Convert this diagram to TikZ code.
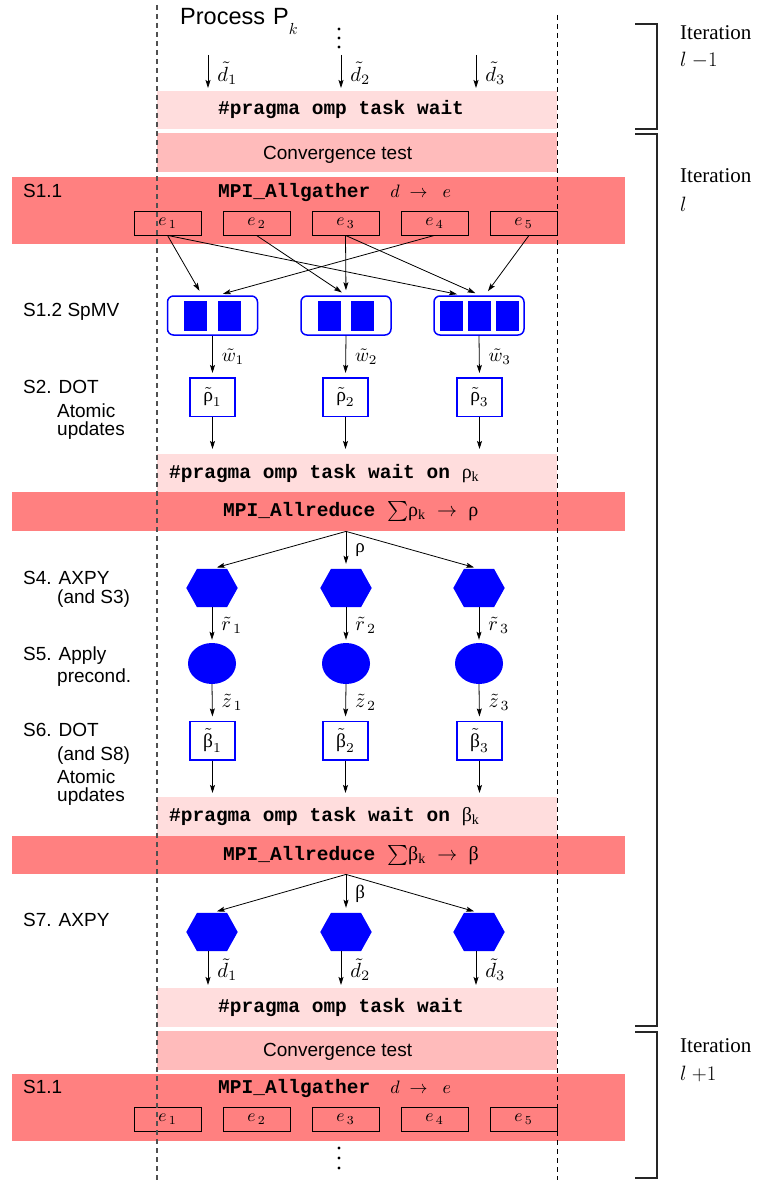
\documentclass[tikz,border=0pt]{standalone}
\usepackage{fontspec}
\setmainfont{Liberation Serif}
\setsansfont{Liberation Sans}
\setmonofont{Liberation Mono}
\newfontfamily\grk{Liberation Serif}
\usetikzlibrary{arrows.meta,shapes.geometric}
\definecolor{pragcol}{RGB}{255,221,221}
\definecolor{convcol}{RGB}{255,187,187}
\definecolor{mpicol}{RGB}{255,128,128}
\definecolor{dgray}{RGB}{80,80,80}
\newcommand\lblfont{\sffamily\fontsize{19}{22}\selectfont}
\newcommand\monfont{\ttfamily\bfseries\fontsize{19.5}{22}\selectfont}
\newcommand\grho{{\grk\mdseries ρ}}
\newcommand\gbeta{{\grk\mdseries β}}
\newcommand\mth[2][1.9]{\scalebox{#1}{\normalsize$#2$}}
\newcommand\hexnode[3]{%
  \node[hexbox] (#1) at (#2,#3) {};
  \fill[blue] (#1.west) -- ([xshift=-15pt]#1.north) -- ([xshift=15pt]#1.north) -- (#1.east)
    -- ([xshift=15pt]#1.south) -- ([xshift=-15pt]#1.south) -- cycle;}
\begin{document}
\begin{tikzpicture}[x=1pt,y=-1pt,
  band/.style={anchor=north west, inner sep=0pt, draw=none},
  mono/.style={font=\monfont, inner sep=0pt, anchor=base west},
  sans/.style={font=\lblfont, inner sep=0pt, anchor=base west},
  ebox/.style={draw=black, line width=0.8pt, minimum width=67pt, minimum height=24pt, inner sep=0pt},
  spmv/.style={draw=blue, line width=1.5pt, rounded corners=6pt, minimum width=90pt, minimum height=39pt, inner sep=0pt},
  blk/.style={fill=blue, minimum width=23pt, minimum height=30pt, inner sep=0pt},
  dotbox/.style={draw=blue, line width=1.5pt, fill=white, minimum width=45pt, minimum height=38.5pt, inner sep=0pt},
  hexbox/.style={minimum width=51pt, minimum height=38pt, inner sep=0pt, draw=none},
  ell/.style={ellipse, fill=blue, minimum width=48pt, minimum height=41pt, inner sep=0pt},
  arr/.style={-{Stealth[length=8pt,width=5pt,inset=1.5pt]}, line width=0.8pt, shorten >=4pt},
  lab/.style={right=9pt, inner sep=0pt},
  glab/.style={right=9pt, inner sep=0pt, font=\fontsize{19}{20}\selectfont},
  brk/.style={line width=1.2pt, black!85},
  iter/.style={font=\fontsize{21}{24}\selectfont, inner sep=0pt, anchor=base west}
]
\useasboundingbox (0,0) rectangle (756,1180);

% ---------- horizontal bands ----------
\node[band, fill=pragcol, minimum width=400pt, minimum height=38pt] (p1) at (157,91) {};
\node[band, fill=convcol, minimum width=400pt, minimum height=39pt] (c1) at (157,133) {};
\node[band, fill=mpicol, minimum width=613pt, minimum height=67pt] (g1) at (12,177) {};
\node[band, fill=pragcol, minimum width=400pt, minimum height=38pt] (p2) at (157,454) {};
\node[band, fill=mpicol, minimum width=613pt, minimum height=39pt] (a1) at (12,492) {};
\node[band, fill=pragcol, minimum width=400pt, minimum height=38.5pt] (p3) at (157,797) {};
\node[band, fill=mpicol, minimum width=613pt, minimum height=38.5pt] (a2) at (12,835.5) {};
\node[band, fill=pragcol, minimum width=400pt, minimum height=39pt] (p4) at (157,988) {};
\node[band, fill=convcol, minimum width=400pt, minimum height=39pt] (c2) at (157,1031) {};
\node[band, fill=mpicol, minimum width=613pt, minimum height=67pt] (g2) at (12,1074) {};

% ---------- band texts ----------
\node[font=\sffamily\fontsize{23.5}{28}\selectfont, inner sep=0pt, anchor=base west] (proc) at (180,25)
  {Process\hspace{8pt}P\raisebox{-10pt}{\mth[1.6]{k}}};
\node[mono] (p1t) at (218,115) {\#pragma omp task wait};
\node[sans] (c1t) at (263,159) {Convergence test};
\node[sans] (g1s) at (23,197) {S1.1};
\node[mono] (g1t) at (218,197) {MPI\_Allgather\hspace{20pt}\mth[1.8]{d\;\rightarrow\;\;e}};
\node[mono] (p2t) at (169,478) {\#pragma omp task wait on \scalebox{2}{\normalsize\grho$_{\mathrm{k}}$}};
\node[mono] (a1t) at (223,516) {MPI\_Allreduce \scalebox{2}{\normalsize$\sum$\grho$_{\mathrm{k}}\;\rightarrow\;\;$\grho}};
\node[mono] (p3t) at (169,821.5) {\#pragma omp task wait on \scalebox{2}{\normalsize\gbeta$_{\mathrm{k}}$}};
\node[mono] (a2t) at (223,860.5) {MPI\_Allreduce \scalebox{2}{\normalsize$\sum$\gbeta$_{\mathrm{k}}\;\rightarrow\;\;$\gbeta}};
\node[mono] (p4t) at (218,1012.5) {\#pragma omp task wait};
\node[sans] (c2t) at (263,1056) {Convergence test};
\node[sans] (g2s) at (23,1093) {S1.1};
\node[mono] (g2t) at (218,1093) {MPI\_Allgather\hspace{20pt}\mth[1.8]{d\;\rightarrow\;\;e}};

% ---------- e boxes ----------
\foreach \i/\x in {1/167.5,2/256.5,3/345.5,4/434.5,5/523.5}{
  \node[ebox] (e\i) at (\x,223) {\mth[1.75]{e_{\,\i}}};
  \node[ebox] (f\i) at (\x,1119) {\mth[1.75]{e_{\,\i}}};
}

% ---------- left labels ----------
\node[sans] (l1) at (23,316) {S1.2 SpMV};
\node[sans] (l2) at (23,393) {S2. DOT};
\node[sans] (l3) at (57,417) {Atomic};
\node[sans] (l4) at (57,435) {updates};
\node[sans] (l5) at (23,584) {S4. AXPY};
\node[sans] (l6) at (57,603) {(and S3)};
\node[sans] (l7) at (23,660) {S5. Apply};
\node[sans] (l8) at (57,682) {precond.};
\node[sans] (l9) at (23,736) {S6. DOT};
\node[sans] (l10) at (57,760) {(and S8)};
\node[sans] (l11) at (57,783) {Atomic};
\node[sans] (l12) at (57,801) {updates};
\node[sans] (l13) at (23,926) {S7. AXPY};

% ---------- SpMV ----------
\node[spmv] (s1) at (212.5,315.5) {};
\node[spmv] (s2) at (346,315.5) {};
\node[spmv] (s3) at (479,315.5) {};
\node[blk] (s1a) at ([xshift=-17pt]s1.center) {};
\node[blk] (s1b) at ([xshift=17pt]s1.center) {};
\node[blk] (s2a) at ([xshift=-17pt]s2.center) {};
\node[blk] (s2b) at ([xshift=16.5pt]s2.center) {};
\node[blk] (s3a) at ([xshift=-28pt]s3.center) {};
\node[blk] (s3b) at (s3.center) {};
\node[blk] (s3c) at ([xshift=28pt]s3.center) {};

% ---------- DOT boxes ----------
\node[dotbox] (r1) at (212.5,397) {\mth[1.95]{\tilde{\hbox{\grho}}_1}};
\node[dotbox] (r2) at (345.5,397) {\mth[1.95]{\tilde{\hbox{\grho}}_2}};
\node[dotbox] (r3) at (479.5,397) {\mth[1.95]{\tilde{\hbox{\grho}}_3}};
\node[dotbox] (b1) at (212.5,740.5) {\mth[1.95]{\tilde{\hbox{\gbeta}}_1}};
\node[dotbox] (b2) at (345.5,740.5) {\mth[1.95]{\tilde{\hbox{\gbeta}}_2}};
\node[dotbox] (b3) at (479.5,740.5) {\mth[1.95]{\tilde{\hbox{\gbeta}}_3}};

% ---------- AXPY hexagons and preconditioner ----------
\hexnode{h1}{212}{588}
\hexnode{h2}{346}{588}
\hexnode{h3}{479}{588}
\hexnode{k1}{212}{932}
\hexnode{k2}{346}{932}
\hexnode{k3}{479}{932}
\node[ell] (z1) at (212,663.5) {};
\node[ell] (z2) at (346,663.5) {};
\node[ell] (z3) at (479,663.5) {};

% ---------- connectors ----------
\coordinate (dt1) at (208,55);
\coordinate (dt2) at (341,55);
\coordinate (dt3) at (476,55);
\draw[arr, shorten >=3pt] (dt1) -- node[lab] {\mth[2.05]{\tilde d_1}} (dt1 |- p1.north);
\draw[arr, shorten >=3pt] (dt2) -- node[lab] {\mth[2.05]{\tilde d_2}} (dt2 |- p1.north);
\draw[arr, shorten >=3pt] (dt3) -- node[lab] {\mth[2.05]{\tilde d_3}} (dt3 |- p1.north);

\draw[arr, shorten >=5pt] (e1.south) -- ([xshift=-10.5pt]s1.north);
\draw[arr, shorten >=5pt] (e1.south) -- ([xshift=-17pt]s3.north);
\draw[arr, shorten >=5pt] (e2.south) -- (s2.north);
\draw[arr, shorten >=5pt] (e3.south) -- (s2.north);
\draw[arr, shorten >=5pt] (e3.south) -- ([xshift=1pt]s3.north);
\draw[arr, shorten >=5pt] (e4.south) -- ([xshift=5.5pt]s1.north);
\draw[arr, shorten >=5pt] ([xshift=5.5pt]e5.south) -- ([xshift=6pt]s3.north);

\draw[arr] (s1.south) -- node[lab] {\mth{\tilde w_1}} (r1.north);
\draw[arr] (s2.south) -- node[lab] {\mth{\tilde w_2}} (r2.north);
\draw[arr] (s3.south) -- node[lab] {\mth{\tilde w_3}} (r3.north);
\draw[arr, shorten >=5pt] (r1.south) -- (r1.south |- p2.north);
\draw[arr, shorten >=5pt] (r2.south) -- (r2.south |- p2.north);
\draw[arr, shorten >=5pt] (r3.south) -- (r3.south |- p2.north);

\draw[arr, shorten >=5pt] (a1.south -| h2.north) -- (h1.north);
\draw[arr, shorten >=5pt] (a1.south -| h2.north) -- node[glab] {\grho} (h2.north);
\draw[arr, shorten >=5pt] (a1.south -| h2.north) -- (h3.north);

\draw[arr, shorten >=3pt] (h1.south) -- node[lab] {\mth[2]{\tilde r_{\,1}}} (z1.north);
\draw[arr, shorten >=3pt] (h2.south) -- node[lab] {\mth[2]{\tilde r_{\,2}}} (z2.north);
\draw[arr, shorten >=3pt] (h3.south) -- node[lab] {\mth[2]{\tilde r_{\,3}}} (z3.north);
\draw[arr] (z1.south) -- node[lab] {\mth[2]{\tilde z_{\,1}}} (b1.north);
\draw[arr] (z2.south) -- node[lab] {\mth[2]{\tilde z_{\,2}}} (b2.north);
\draw[arr] (z3.south) -- node[lab] {\mth[2]{\tilde z_{\,3}}} (b3.north);
\draw[arr] (b1.south) -- (b1.south |- p3.north);
\draw[arr] (b2.south) -- (b2.south |- p3.north);
\draw[arr] (b3.south) -- (b3.south |- p3.north);

\draw[arr, shorten >=5pt] (a2.south -| k2.north) -- (k1.north);
\draw[arr, shorten >=5pt] (a2.south -| k2.north) -- node[glab] {\gbeta} (k2.north);
\draw[arr, shorten >=5pt] (a2.south -| k2.north) -- (k3.north);

\coordinate (db1) at ([xshift=-4pt]k1.south);
\coordinate (db2) at ([xshift=-5pt]k2.south);
\coordinate (db3) at ([xshift=-3pt]k3.south);
\draw[arr, shorten >=3pt] (db1) -- node[lab] {\mth[2.05]{\tilde d_1}} (db1 |- p4.north);
\draw[arr, shorten >=3pt] (db2) -- node[lab] {\mth[2.05]{\tilde d_2}} (db2 |- p4.north);
\draw[arr, shorten >=3pt] (db3) -- node[lab] {\mth[2.05]{\tilde d_3}} (db3 |- p4.north);

% ---------- vertical dots ----------
\foreach \y in {29,38,47} \fill (339,\y) circle[radius=1.7];
\foreach \y in {1148,1158,1168} \fill (339,\y) circle[radius=1.7];

% ---------- process boundaries ----------
\draw[dgray, line width=1.3pt, dash pattern=on 5pt off 4pt] (157,5) -- (157,1180);
\draw[black, line width=0.9pt, dash pattern=on 5pt off 4pt] (557,15) -- (557,1180);

% ---------- iteration brackets ----------
\draw[brk] (635,24) -- (657,24) -- (657,129) -- (635,129);
\draw[brk] (635,134) -- (657,134) -- (657,1026) -- (635,1026);
\draw[brk] (635,1032) -- (657,1032) -- (657,1178) -- (635,1178);
\node[iter] (it1) at (680,40) {Iteration};
\node[iter] (it1l) at (680,66.5) {$l\ {-}1$};
\node[iter] (it2) at (680,182.5) {Iteration};
\node[iter] (it2l) at (680,211) {$l$};
\node[iter] (it3) at (680,1052) {Iteration};
\node[iter] (it3l) at (680,1080) {$l\ {+}1$};
\end{tikzpicture}
\end{document}
